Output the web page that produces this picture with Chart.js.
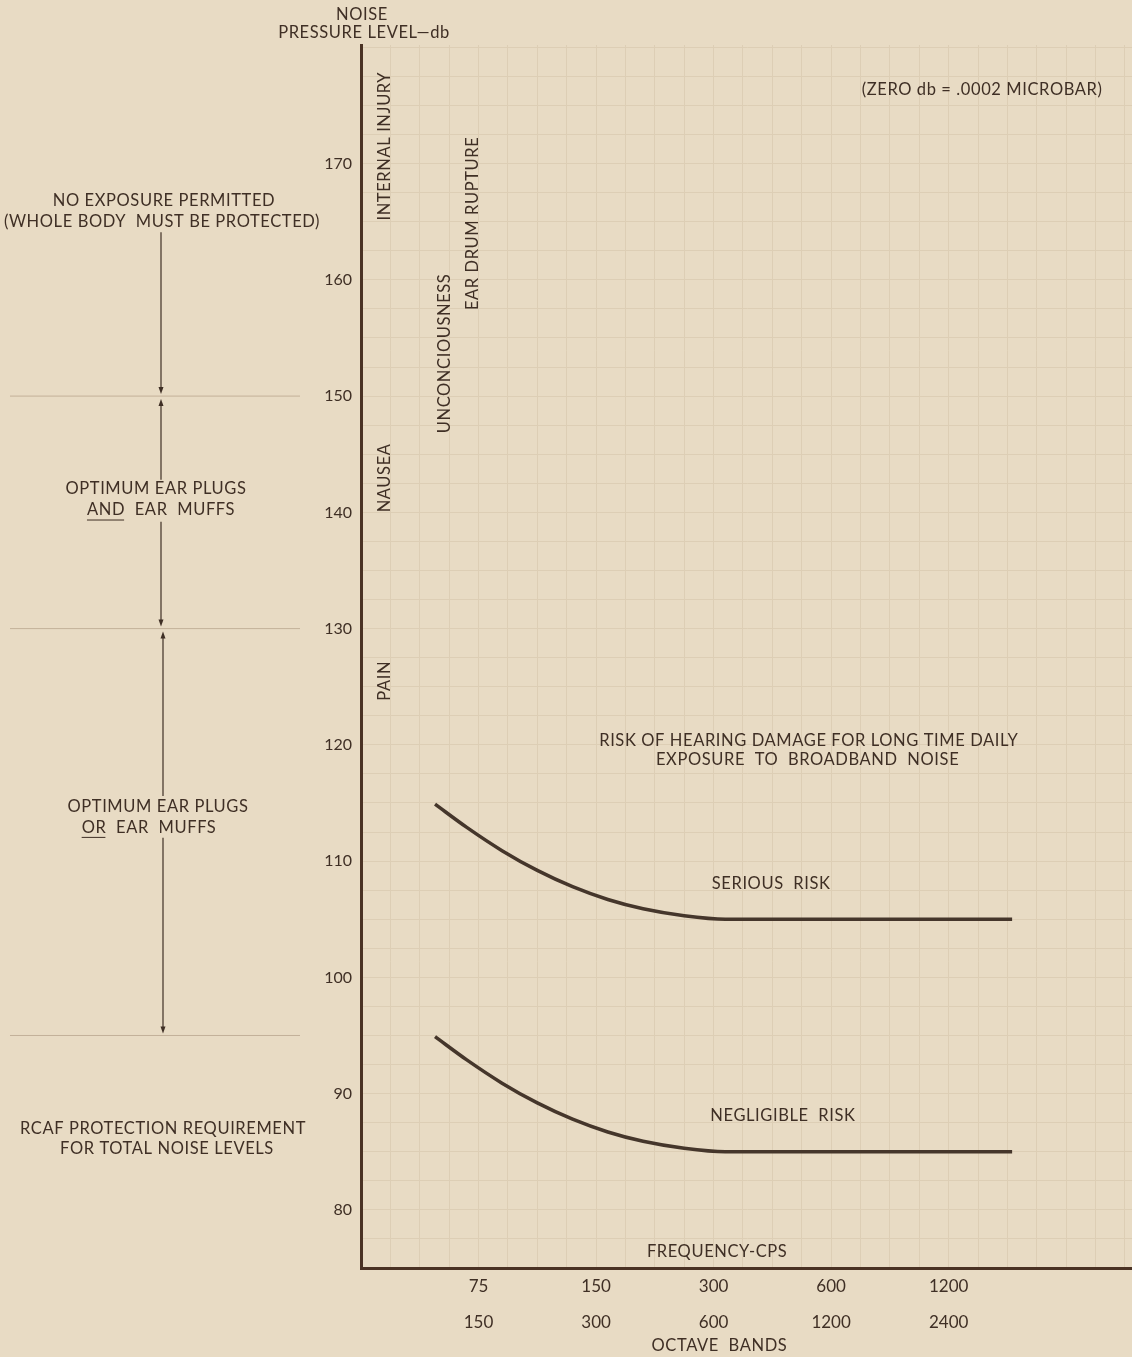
<!DOCTYPE html>
<html>
<head>
<meta charset="utf-8">
<script src="https://cdn.jsdelivr.net/npm/chart.js@4.4.1/dist/chart.umd.min.js"></script>
<style>
    html, body { margin: 0; padding: 0; background: #e8dbc4; }
    #wrap { width: 1132px; height: 1357px; }
</style>
</head>
<body>
<div id="wrap"><canvas id="noiseChart"></canvas></div>
<script>
// octave bands (two rows under the x axis)
const bandPosition = [1, 2, 3, 4, 5];
const bandLow = ['75', '150', '300', '600', '1200'];
const bandHigh = ['150', '300', '600', '1200', '2400'];

// db tick labels
const dbTicks = [80, 90, 100, 110, 120, 130, 140, 150, 160, 170];

// risk curves, x in octave-band units
const curveX = [0.63, 0.9, 1.2, 1.5, 1.8, 2.1, 2.4, 2.75, 3.1, 4.3, 5.54];
const seriousRisk = [114.9, 112.9, 110.9, 109.2, 107.8, 106.7, 105.9, 105.3, 105.0, 105.0, 105.0];
const negligibleRisk = [94.9, 92.9, 90.9, 89.2, 87.8, 86.7, 85.9, 85.3, 85.0, 85.0, 85.0];

// protection zone limits on the left
const zoneLimits = [150, 130, 95];

// physiological effects, written upwards from the given level
const effectText = ['INTERNAL INJURY', 'EAR DRUM RUPTURE', 'UNCONCIOUSNESS', 'NAUSEA', 'PAIN'];
const effectX = [0.2, 0.95, 0.71, 0.2, 0.2];
const effectDb = [165.1, 157.4, 146.8, 140.0, 123.8];

const paperColor = '#e8dbc4';
const inkColor = '#3f2f25';
const gridColor = '#ddceb5';
const fontFamily = 'Lato, "DejaVu Sans", sans-serif';

function toPoints(xs, ys) {
    return xs.map((x, i) => ({ x: x, y: ys[i] }));
}

function drawText(ctx, text, x, y, align, angle) {
    ctx.save();
    ctx.translate(x, y);
    if (angle) ctx.rotate(angle);
    ctx.textAlign = align || 'center';
    ctx.textBaseline = 'middle';
    ctx.fillText(text, 0, 0);
    ctx.restore();
}

// centred line with the first word underlined
function drawUnderlined(ctx, text, word, x, y) {
    drawText(ctx, text, x, y, 'center');
    const full = ctx.measureText(text).width;
    const w = ctx.measureText(word).width;
    const left = x - full / 2;
    ctx.beginPath();
    ctx.moveTo(left, y + 10);
    ctx.lineTo(left + w - 1, y + 10);
    ctx.lineWidth = 1;
    ctx.strokeStyle = inkColor;
    ctx.stroke();
}

function drawArrow(ctx, x, yFrom, yTo) {
    const dir = yTo > yFrom ? 1 : -1;
    ctx.beginPath();
    ctx.moveTo(x, yFrom);
    ctx.lineTo(x, yTo - dir * 6);
    ctx.lineWidth = 1.2;
    ctx.strokeStyle = inkColor;
    ctx.stroke();
    ctx.beginPath();
    ctx.moveTo(x, yTo);
    ctx.lineTo(x - 2.5, yTo - dir * 7);
    ctx.lineTo(x + 2.5, yTo - dir * 7);
    ctx.closePath();
    ctx.fillStyle = inkColor;
    ctx.fill();
}

const paperPlugin = {
    id: 'paper',
    beforeDraw(chart) {
        const ctx = chart.ctx;
        ctx.save();
        ctx.fillStyle = paperColor;
        ctx.fillRect(0, 0, chart.width, chart.height);
        ctx.restore();
    },
    afterDraw(chart) {
        const ctx = chart.ctx;
        const xs = chart.scales.x;
        const ys = chart.scales.y;
        const area = chart.chartArea;
        const px = v => xs.getPixelForValue(v);
        const py = v => ys.getPixelForValue(v);

        ctx.save();
        ctx.fillStyle = inkColor;
        ctx.font = '16.5px ' + fontFamily;
        ctx.letterSpacing = '0.6px';

        // axis titles
        drawText(ctx, 'NOISE', area.left + 1, area.top - 30);
        drawText(ctx, 'PRESSURE LEVEL\u2014db', area.left + 3, area.top - 12);
        drawText(ctx, 'OCTAVE  BANDS', px(3.05), area.bottom + 78);

        // effects
        effectText.forEach((t, i) => {
            drawText(ctx, t, px(effectX[i]), py(effectDb[i]), 'left', -Math.PI / 2);
        });

        drawText(ctx, '(ZERO db = .0002 MICROBAR)', px(5.285), py(176.4));
        drawText(ctx, 'RISK OF HEARING DAMAGE FOR LONG TIME DAILY', px(3.81), py(120.4));
        drawText(ctx, 'EXPOSURE  TO  BROADBAND  NOISE', px(3.8), py(118.75));
        drawText(ctx, 'SERIOUS  RISK', px(3.49), py(108.1));
        drawText(ctx, 'NEGLIGIBLE  RISK', px(3.59), py(88.1));
        drawText(ctx, 'FREQUENCY-CPS', px(3.03), py(76.4));

        // protection requirement column
        const cx = 161;
        zoneLimits.forEach(v => {
            ctx.beginPath();
            ctx.moveTo(10, py(v));
            ctx.lineTo(300, py(v));
            ctx.lineWidth = 1;
            ctx.strokeStyle = 'rgba(170, 150, 125, 0.6)';
            ctx.stroke();
        });

        drawText(ctx, 'NO EXPOSURE PERMITTED', cx + 3, py(166.8));
        drawText(ctx, '(WHOLE BODY  MUST BE PROTECTED)', cx + 1, py(165.0));
        drawArrow(ctx, cx, py(164.1), py(150) - 2);

        drawText(ctx, 'OPTIMUM EAR PLUGS', cx - 5, py(142.0));
        drawUnderlined(ctx, 'AND  EAR  MUFFS', 'AND', cx, py(140.2));
        drawArrow(ctx, cx, py(142.8), py(150) + 3);
        drawArrow(ctx, cx, py(139.2), py(130) - 2);

        drawText(ctx, 'OPTIMUM EAR PLUGS', cx - 3, py(114.7));
        drawUnderlined(ctx, 'OR  EAR  MUFFS', 'OR', cx - 12, py(112.9));
        drawArrow(ctx, cx + 2, py(115.6), py(130) + 3);
        drawArrow(ctx, cx + 2, py(112.0), py(95) - 2);

        drawText(ctx, 'RCAF PROTECTION REQUIREMENT', cx + 2, py(87.0));
        drawText(ctx, 'FOR TOTAL NOISE LEVELS', cx + 6, py(85.3));
        ctx.restore();
    }
};

const ctx = document.getElementById('noiseChart');

new Chart(ctx, {
    type: 'line',
    data: {
        datasets: [
            {
                label: 'Serious risk',
                data: toPoints(curveX, seriousRisk),
                borderColor: '#45362b',
                borderWidth: 3.5,
                pointRadius: 0,
                cubicInterpolationMode: 'monotone',
                borderCapStyle: 'butt'
            },
            {
                label: 'Negligible risk',
                data: toPoints(curveX, negligibleRisk),
                borderColor: '#45362b',
                borderWidth: 3.5,
                pointRadius: 0,
                cubicInterpolationMode: 'monotone',
                borderCapStyle: 'butt'
            }
        ]
    },
    options: {
        responsive: true,
        maintainAspectRatio: false,
        animation: false,
        layout: { padding: { top: 45, right: 0, left: 0, bottom: 0 } },
        plugins: {
            legend: { display: false },
            tooltip: { enabled: false }
        },
        scales: {
            x: {
                type: 'linear',
                min: 0,
                max: 6.56,
                afterFit: function (scale) {
                    scale.height = 89;
                },
                grid: { color: gridColor, lineWidth: 1, drawTicks: false },
                border: { display: true, color: '#4a3224', width: 3 },
                ticks: {
                    stepSize: 0.25,
                    includeBounds: false,
                    autoSkip: false,
                    maxRotation: 0,
                    padding: 0,
                    color: inkColor,
                    font: { family: fontFamily, size: 17, lineHeight: 2.12 },
                    callback: function (value) {
                        const i = bandPosition.indexOf(Math.round(value * 100) / 100);
                        return i >= 0 ? [bandLow[i], bandHigh[i]] : '';
                    }
                }
            },
            y: {
                min: 75,
                max: 180.2,
                afterFit: function (scale) {
                    scale.width = 361;
                },
                grid: { color: gridColor, lineWidth: 1, drawTicks: false },
                border: { display: true, color: '#4a3224', width: 3 },
                ticks: {
                    stepSize: 2.5,
                    includeBounds: false,
                    autoSkip: false,
                    padding: 9,
                    color: inkColor,
                    font: { family: fontFamily, size: 16 },
                    callback: function (value) {
                        return dbTicks.includes(value) ? String(value) : '';
                    }
                }
            }
        }
    },
    plugins: [paperPlugin]
});
</script>
</body>
</html>
